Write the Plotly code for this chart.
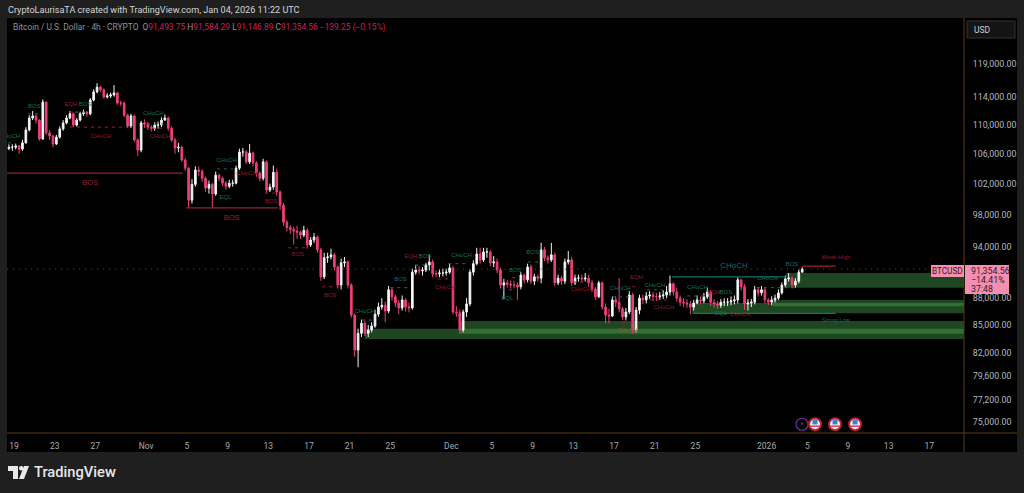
from datetime import datetime, timedelta
import plotly.graph_objects as go

# ---- candles: 8-hour steps, prices in thousands of USD
closes = [
106.9,106.9,107.05,106.65,107.5,109.3,111.0,111.3,110.7,108.05,
113.3,108.9,108.45,107.35,108.3,109.45,110.3,111.0,111.6,110.0,
110.7,111.6,111.85,111.6,113.6,114.8,115.5,115.1,114.05,114.2,
114.35,114.65,113.15,113.15,111.4,109.85,111.3,107.9,106.5,110.3,
110.15,109.7,109.55,110.0,110.0,110.7,111.0,109.55,107.9,106.8,
106.9,105.15,104.05,99.85,101.9,103.8,103.65,102.7,101.4,101.9,
100.65,103.1,102.7,102.05,101.65,102.05,102.05,104.05,106.25,106.25,
104.9,106.1,104.75,103.4,102.7,104.9,101.15,101.55,103.5,100.9,
99.2,97.05,96.4,96.15,95.95,95.8,95.45,96.05,94.25,94.85,
95.2,93.65,90.45,92.7,92.8,93.05,91.6,89.5,92.1,92.2,
89.5,86.1,82.3,84.1,85.2,84.1,84.45,84.9,86.2,87.0,
87.2,86.55,88.95,88.15,87.45,86.9,87.8,87.0,86.9,91.0,
91.25,91.15,91.25,91.85,92.2,90.8,90.8,90.9,90.9,91.0,
91.5,86.45,86.35,84.45,86.45,87.35,91.0,92.0,93.15,92.45,
93.4,93.4,92.1,92.2,91.25,89.5,89.75,89.6,89.5,89.5,
89.3,90.65,90.1,91.6,89.95,90.45,90.3,93.65,92.7,92.45,
93.05,89.75,90.3,89.95,92.2,92.45,89.75,90.3,90.3,90.2,
90.3,89.75,89.05,88.15,89.75,87.0,86.1,86.0,87.8,87.55,
86.8,85.9,86.45,88.35,84.45,86.65,88.0,87.8,88.25,88.35,
88.15,88.15,88.25,88.35,88.7,89.65,88.7,88.0,87.55,87.45,
87.35,87.0,87.45,87.8,87.7,88.15,88.7,87.55,87.35,87.2,
87.55,87.55,87.55,87.7,87.8,90.1,89.3,87.35,87.45,87.55,
88.95,88.6,88.95,87.8,87.55,87.8,88.0,88.6,89.5,90.2,
90.3,89.5,89.95,91.0,91.35]
highs = [
107.3,107.3,107.4,107.2,107.9,109.7,111.4,112.0,111.5,110.8,
113.7,113.4,109.3,108.6,108.6,109.8,110.7,111.4,112.0,111.8,
111.0,111.9,112.2,112.0,113.9,115.2,116.1,115.7,115.3,114.6,
114.7,115.8,114.8,113.5,113.4,111.6,111.6,111.5,108.1,110.6,
110.8,110.4,110.0,110.4,110.5,111.1,111.5,111.2,109.8,108.2,
107.5,107.1,105.4,104.2,102.6,104.3,104.3,103.9,102.9,102.4,
102.1,103.6,103.3,102.9,102.3,102.5,102.5,104.4,106.7,106.8,
106.5,107.35,106.3,105.0,103.6,105.3,105.1,102.0,104.4,104.0,
101.1,99.5,97.3,96.7,96.5,96.6,96.0,96.6,96.3,95.2,
95.7,95.4,93.9,93.3,93.3,93.8,93.3,91.8,92.6,92.8,
92.4,89.7,86.3,84.6,85.6,85.5,85.0,85.3,86.7,87.5,
88.0,87.6,89.4,89.2,88.4,87.8,88.3,88.0,87.5,91.4,
91.8,91.7,91.6,92.1,93.05,92.5,91.2,91.3,91.4,91.4,
92.0,91.7,87.1,86.7,86.7,88.0,91.3,92.4,93.9,93.9,
93.9,93.9,93.6,92.9,92.6,91.5,90.2,90.1,90.0,90.0,
89.8,91.0,90.8,92.0,91.9,90.8,90.7,94.5,94.0,93.0,
94.5,93.3,90.7,90.6,92.6,93.5,92.8,90.7,90.7,90.7,
90.9,90.7,90.1,89.3,90.0,89.9,87.4,86.8,88.2,88.2,
90.3,87.0,86.9,88.8,88.6,87.0,88.4,88.4,88.7,88.8,
88.7,88.6,88.7,88.9,89.4,90.6,89.8,89.2,88.3,88.0,
87.9,87.7,87.8,88.3,88.2,88.6,89.2,88.9,87.9,87.7,
87.9,88.0,88.0,88.2,88.3,90.4,90.2,89.6,87.9,87.9,
89.4,89.3,89.4,89.2,88.0,88.2,88.4,89.0,89.8,90.6,
90.9,90.5,90.3,91.3,91.58]
lows = [
106.5,106.4,106.6,106.0,106.4,107.4,109.1,110.7,110.2,107.8,
107.9,108.6,107.9,106.9,107.2,108.1,109.2,110.1,110.8,109.7,
109.8,110.5,111.3,111.2,111.4,113.4,114.6,114.8,113.8,113.8,
113.9,114.1,112.9,112.7,111.1,109.6,109.6,107.6,105.7,106.2,
109.6,109.3,109.1,109.2,109.5,109.7,110.6,109.2,107.6,106.0,
106.2,104.9,103.7,98.9,99.4,101.6,103.0,102.2,100.9,100.7,
98.9,100.4,102.3,101.7,101.2,101.4,101.6,101.9,103.8,105.6,
104.6,104.6,104.3,102.9,102.3,102.4,100.8,100.9,101.2,100.4,
98.6,96.6,95.9,95.6,94.3,95.0,95.0,95.2,93.8,94.0,
94.5,93.3,90.0,90.2,92.1,92.5,91.2,89.1,89.0,91.6,
89.1,85.8,81.6,80.5,83.7,83.8,83.7,84.2,84.7,85.9,
86.7,85.3,86.3,87.7,87.0,86.2,86.6,86.5,86.4,86.7,
90.7,90.7,90.6,91.0,91.2,90.4,90.4,90.4,90.5,90.6,
90.8,86.2,85.9,84.1,84.2,85.9,87.1,90.6,91.8,92.0,
92.2,92.7,91.7,91.6,90.9,89.1,87.9,89.2,89.1,89.1,
87.8,89.0,89.7,89.8,89.6,89.5,89.9,89.7,92.3,92.0,
92.2,89.4,89.5,89.5,89.6,91.9,89.4,89.5,89.9,89.8,
89.9,89.3,88.7,87.8,88.0,86.7,85.2,85.2,85.9,87.0,
86.4,85.6,85.5,86.2,84.1,84.2,86.2,87.3,87.4,87.9,
87.7,87.7,87.8,87.9,88.0,88.3,88.3,87.6,87.1,87.0,
86.9,86.2,86.6,87.3,87.3,87.4,87.9,87.1,86.9,86.8,
86.9,87.1,87.1,87.2,87.3,87.4,88.9,86.7,86.6,87.0,
87.3,88.2,88.3,87.4,87.2,87.2,87.5,87.8,88.4,89.2,
89.9,89.1,89.2,89.7,91.15]
first_open = 106.7
first_candle = datetime(2025, 10, 18, 12)
last_price = 91354.56

# ---- axis ticks
y_ticks = [119000, 114000, 110000, 106000, 102000, 98000, 94000, 88000, 85000, 82000, 79600, 77200, 75000]
x_tick_dates = ["2025-10-19","2025-10-23","2025-10-27","2025-11-01","2025-11-05","2025-11-09","2025-11-13",
                "2025-11-17","2025-11-21","2025-11-25","2025-12-01","2025-12-05","2025-12-09","2025-12-13",
                "2025-12-17","2025-12-21","2025-12-25","2026-01-01","2026-01-05","2026-01-09","2026-01-13","2026-01-17"]
x_tick_text = ["19","23","27","Nov","5","9","13","17","21","25","Dec","5","9","13","17","21","25","2026","5","9","13","17"]

# ---- annotations: (text, days since 19 Oct, price in thousands)
green_labels = [("HoCH",-0.2,108.45),("BOS",2.0,112.7),("BOS",7.0,113.0),("CHoCH",13.7,111.6),("CHoCH",20.9,105.1),
    ("EQL",20.8,100.25),("CHoCH",34.5,86.45),("BOS",38.0,90.1),("BOS",40.4,92.8),("CHoCH",44.0,92.95),
    ("BOS",51.0,93.3),("BOS",49.3,91.25),("EQL",48.5,88.0),("CHoCH",59.6,89.05),("CHoCH",63.0,89.4),
    ("CHoCH",67.2,89.2),("BOS",70.0,88.7),("EQL",69.5,86.3),("CHoCH",74.1,90.2),("BOS",76.5,91.85)]
red_labels = [("EQH",5.6,113.0),("CHoCH",8.55,108.45),("CHoCH",14.35,108.45),("CHoCH",22.9,103.4),("BOS",25.3,99.7),
    ("BOS",27.9,93.05),("BOS",31.1,88.25),("EQH",39.0,92.8),("CHoCH",42.4,89.2),("CHoCH",55.75,88.95),
    ("EQH",61.2,90.35),("CHoCH",63.9,86.9),("EQH",68.8,88.7),("CHoCH",71.4,86.2),("Weak High",80.8,92.7)]
large_red_labels = [("BOS",7.5,102.05),("BOS",21.4,97.55)]
orange_labels = [("CHoCH",60.3,84.45)]
large_green_labels = [("CHoCH",70.8,91.75)]
teal_labels = [("Strong Low",80.8,85.45)]

# ---- structure lines: (start day, end day, price in thousands)
red_solid = [(-0.7,16.6,103.4),(16.9,25.95,98.85),(77.5,80.8,91.7)]
red_dashed = [(5.5,11.1,109.7),(13.55,14.85,109.55),(24.7,25.65,100.75),(26.95,28.8,93.9),(30.3,31.75,89.3),
    (41.7,43.05,90.2),(54.95,56.35,89.85),(60.8,61.55,89.3),(59.8,60.8,85.3),(62.5,64.5,87.8),(5.5,6.3,111.85)]
green_dashed = [(-0.6,-0.2,107.5),(1.4,2.55,111.6),(6.0,7.2,111.85),(13.1,14.65,110.15),(19.95,21.55,103.95),
    (34.2,35.3,85.55),(37.0,38.75,89.2),(39.45,40.6,91.85),(42.7,44.55,92.0),(50.55,51.7,92.2),(49.0,49.75,90.35),
    (48.0,49.0,88.95),(58.8,60.55,88.15),(62.25,63.8,88.95),(66.2,68.15,88.25),(73.05,77.0,89.2)]
teal_solid = [(64.7,75.9,90.45),(66.75,80.8,86.3)]

# ---- demand zones: (start day, low, high), all run to the right edge
zones = [(75.9,89.2,90.9),(74.6,87.1,87.8),(66.65,86.3,87.45),(43.85,84.05,85.45),(34.5,83.5,84.6)]

# ---- economic event flags (days since 19 Oct)
flag_days = [78.76, 80.73, 82.7]
bolt_day = 77.48
flag_price = 74800

PINK = "#ee3f7c"; RED = "#a01c38"; GREEN = "#0f7262"; BROWN = "#5a3a12"
W, H = 1024, 493
L, R, T, B = 7, 964, 18, 433
T0 = datetime(2025, 10, 19)
def day(d): return T0 + timedelta(days=d)
def px(x): return (x - L) / (R - L)
def py(y): return (B - y) / (B - T)

times = [first_candle + timedelta(hours=8 * i) for i in range(len(closes))]
opens = [first_open] + closes[:-1]
k = lambda v: [a * 1000 for a in v]

fig = go.Figure()
fig.add_trace(go.Candlestick(x=times, open=k(opens), high=k(highs), low=k(lows), close=k(closes),
    increasing=dict(line=dict(color="#f2f2f2", width=1), fillcolor="#ffffff"),
    decreasing=dict(line=dict(color=PINK, width=1), fillcolor=PINK),
    whiskerwidth=0, showlegend=False))

def lines(segs, color, width=1, dash="solid"):
    xs, ys = [], []
    for a, b, p in segs:
        xs += [day(a), day(b), None]; ys += [p * 1000, p * 1000, None]
    fig.add_trace(go.Scatter(x=xs, y=ys, mode="lines", line=dict(color=color, width=width, dash=dash),
                             hoverinfo="skip", showlegend=False))

lines(red_solid, RED, 1.2)
lines(red_dashed, RED, 1, "3px,4px")
lines(green_dashed, GREEN, 1, "3px,4px")
lines(teal_solid, "#0d7466", 1.2)
lines([(-0.7, 93.41, last_price / 1000)], "#8a3a55", 1, "1px,5px")

def labels(items, color, size):
    fig.add_trace(go.Scatter(x=[day(i[1]) for i in items], y=[i[2] * 1000 for i in items], text=[i[0] for i in items],
        mode="text", textposition="middle center", textfont=dict(color=color, size=size, family="Liberation Sans"),
        hoverinfo="skip", showlegend=False))

labels(green_labels, GREEN, 6)
labels(red_labels, "#8b1c34", 6)
labels(large_red_labels, "#9c1f3a", 7.5)
labels(orange_labels, "#7d5a3c", 6)
labels(large_green_labels, GREEN, 8)
labels(teal_labels, "#0f7262", 5.5)

# event flags
fdays = [day(d) for d in flag_days]
fig.add_trace(go.Scatter(x=[day(bolt_day)], y=[flag_price], mode="markers+text", text=["⚡"], textposition="middle center",
    textfont=dict(color="#8a3fd0", size=7, family="DejaVu Sans"),
    marker=dict(symbol="circle-open", size=12, color="#6a2fb0", line=dict(width=1.2, color="#6a2fb0")),
    hoverinfo="skip", showlegend=False))
fig.add_trace(go.Scatter(x=fdays, y=[flag_price] * 3, mode="markers",
    marker=dict(symbol="circle", size=12, color="#f5eeee", line=dict(width=2, color="#b51f30")),
    hoverinfo="skip", showlegend=False))
fig.add_trace(go.Scatter(x=fdays, y=[flag_price * 1.003] * 3, mode="markers",
    marker=dict(symbol="square", size=5, color="#3f7fd0"), hoverinfo="skip", showlegend=False))
fig.add_trace(go.Scatter(x=fdays, y=[flag_price * 0.9975] * 3, mode="markers",
    marker=dict(symbol="line-ew", size=7, line=dict(width=1.5, color="#d8404a")), hoverinfo="skip", showlegend=False))

shapes = []
for d0, lo, hi in zones:
    shapes.append(dict(type="rect", xref="x", yref="y", x0=day(d0), x1=day(93.41), y0=lo * 1000, y1=hi * 1000,
                       fillcolor="rgba(76,175,80,0.4)", line=dict(width=0), layer="below"))

def prect(x0, y0, x1, y1, fill, layer="below", line=None):
    shapes.append(dict(type="rect", xref="paper", yref="paper", x0=px(x0), x1=px(x1), y0=py(y0), y1=py(y1),
                       fillcolor=fill, line=line or dict(width=0), layer=layer))
def pline(x0, y0, x1, y1, color):
    shapes.append(dict(type="line", xref="paper", yref="paper", x0=px(x0), x1=px(x1), y0=py(y0), y1=py(y1),
                       line=dict(color=color, width=1), layer="above"))
def ppath(points, fill):
    d = "M" + " L".join(f"{px(a):.5f},{py(b):.5f}" for a, b in points) + " Z"
    shapes.append(dict(type="path", xref="paper", yref="paper", path=d, fillcolor=fill, line=dict(width=0), layer="above"))

prect(7, 18, 1017, 452, "#000000")
pline(964, 18, 964, 452, BROWN)
pline(7, 433, 1017, 433, BROWN)
prect(967, 21, 1015, 38, "#141414", "above", dict(color="#333333", width=1))
prect(931, 265, 964, 277, "#f48fb1", "above")
prect(965, 265, 1009, 294, "#f48fb1", "above")
# TradingView mark
ppath([(8,466),(18,466),(18,479),(13,479),(13,471),(8,471)], "#e8e8e8")
ppath([(24,466),(29,466),(24,479),(19,479)], "#e8e8e8")
shapes.append(dict(type="circle", xref="paper", yref="paper", x0=px(19), x1=px(23.5), y0=py(466), y1=py(470.5),
                   fillcolor="#e8e8e8", line=dict(width=0), layer="above"))

def note(x, y, text, size, color, anchor="left", family="Liberation Sans", weight=None):
    fig.add_annotation(xref="paper", yref="paper", x=px(x), y=py(y), text=text, showarrow=False, xanchor=anchor,
                       yanchor="middle", align=anchor, borderpad=0,
                       font=dict(size=size, color=color, family=family, **({"weight": weight} if weight else {})))

hdr = "#8f9298"; v = "#cf1d5c"
note(7, 10, "CryptoLaurisaTA created with TradingView.com, Jan 04, 2026 11:22 UTC", 9.1, "#d4d4d4", family="Roboto")
note(12, 28, f"<span style='color:{hdr}'>Bitcoin / U.S. Dollar · 4h · CRYPTO  O</span>91,493.75 "
             f"<span style='color:{hdr}'>H</span>91,584.29 <span style='color:{hdr}'>L</span>91,146.89 "
             f"<span style='color:{hdr}'>C</span>91,354.56 −139.25 (−0.15%)", 8.4, v, family="Roboto")
note(973, 30, "USD", 8.5, "#cfcfcf", family="Roboto")
note(947.5, 271, "BTCUSD", 8.2, "#331a22", anchor="center", family="Roboto")
note(970, 271, "91,354.56", 8.8, "#331a22", family="Roboto")
note(970, 280, "−14.41%", 8.8, "#331a22", family="Roboto")
note(970, 289, "37:48", 8.8, "#331a22", family="Roboto")
note(33, 472, "TradingView", 14.7, "#e8e8e8", family="Roboto", weight=500)

fig.update_layout(
    width=W, height=H, autosize=False, margin=dict(l=L, r=W - R, t=T, b=H - B, pad=0),
    paper_bgcolor="#1f1f1f", plot_bgcolor="#000000", showlegend=False, shapes=shapes,
    xaxis=dict(type="date", range=[day(-0.688), day(93.41)], rangeslider=dict(visible=False), showgrid=False, zeroline=False,
               tickmode="array", tickvals=x_tick_dates, ticktext=x_tick_text, showline=False,
               ticks="outside", ticklen=5, tickcolor="rgba(0,0,0,0)", tickfont=dict(size=8.5, color="#a8abb3", family="Roboto")),
    yaxis=dict(type="log", side="right", range=[4.8690, 5.1013], showgrid=False, zeroline=False, showline=False,
               tickmode="array", tickvals=y_ticks, ticktext=[f"{t:,.2f}" for t in y_ticks],
               ticks="outside", ticklen=6, tickcolor="rgba(0,0,0,0)", tickfont=dict(size=8.8, color="#b4b7bf", family="Roboto")),
)
fig.write_html("out.html", config={"displayModeBar": False},
               post_script="document.body.style.margin='0';document.documentElement.style.background='#1f1f1f';")
